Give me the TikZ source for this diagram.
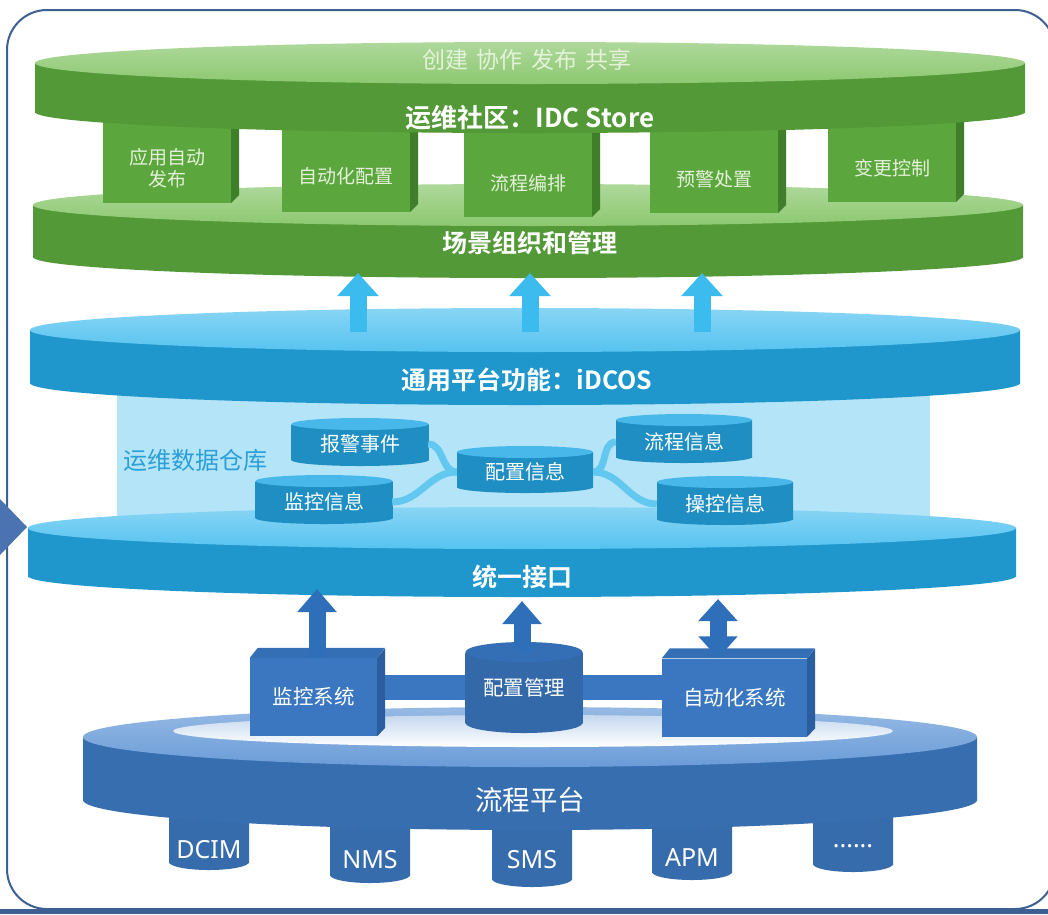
\documentclass[tikz,border=0pt]{standalone}
\usepackage{fontspec}
\setmainfont{Noto Sans CJK SC}[BoldFont={Noto Sans CJK SC Bold}]
\newfontfamily\latinfont{Noto Sans}
\usetikzlibrary{arrows.meta}

\definecolor{frameblue}{HTML}{3D5F91}
\definecolor{tri}{HTML}{4B73B1}
\definecolor{gface}{HTML}{8CC870}
\definecolor{gside}{HTML}{5CAA3E}
\definecolor{gbox}{HTML}{5CA63E}
\definecolor{gboxside}{HTML}{3F7F29}
\definecolor{gtext}{HTML}{E4F2DA}
\definecolor{cface}{HTML}{56C3F0}
\definecolor{cside}{HTML}{22A8E3}
\definecolor{cpanel}{HTML}{B4E4F8}
\definecolor{cdrum}{HTML}{23A1DC}
\definecolor{cdrumtop}{HTML}{48B8EA}
\definecolor{cband}{HTML}{62C8F0}
\definecolor{clabel}{HTML}{2A9FD8}
\definecolor{carrow}{HTML}{3CBBEF}
\definecolor{dface}{HTML}{6A9CD8}
\definecolor{dside}{HTML}{3D7AC3}
\definecolor{dhole}{HTML}{C5D8EF}
\definecolor{dbox}{HTML}{3A77C0}
\definecolor{dboxtop}{HTML}{346FB6}
\definecolor{dboxside}{HTML}{2B5E9F}
\definecolor{darrow}{HTML}{2F6FBA}

% flat disk: cx, cy (top face), rx, ry, thickness, side colour, face colour
\newcommand{\slab}[7]{%
  \shade[left color=#6!90!black, middle color=#6, right color=#6!90!black]
    (#1,#2+#5) ellipse [x radius=#3, y radius=#4];
  \shade[left color=#6!90!black, middle color=#6, right color=#6!90!black]
    (#1-#3,#2) rectangle (#1+#3,#2+#5);
  \shade[top color=#7!70!white, bottom color=#7] (#1,#2) ellipse [x radius=#3, y radius=#4];
}
% small cylinder: cx, ytop, width, body height, ry, body colour, top colour
\newcommand{\drum}[7]{%
  \shade[left color=#6!88!black, middle color=#6, right color=#6!88!black]
    (#1,#2+#4) ellipse [x radius=#3/2, y radius=#5];
  \shade[left color=#6!88!black, middle color=#6, right color=#6!88!black]
    (#1-#3/2,#2) rectangle (#1+#3/2,#2+#4);
  \fill[#7] (#1,#2) ellipse [x radius=#3/2, y radius=#5];
}

\begin{document}
\begin{tikzpicture}[x=1pt,y=-1pt,
  title/.style={text=white,inner sep=0pt,font=\bfseries\fontsize{25}{27}\selectfont},
  lbl/.style={text=white,inner sep=0pt,align=center,font=\fontsize{20}{23}\selectfont},
  info/.style={lbl,minimum width=136pt,minimum height=38pt},
  dnode/.style={lbl,fill=dbox,minimum height=78pt,font=\fontsize{20.5}{23}\selectfont},
  band/.style={draw=cband,line width=7pt},
  larr/.style={draw=carrow,line width=17pt,-{Triangle[width=40pt,length=23pt]}},
  darr/.style={draw=darrow,line width=17pt,-{Triangle[width=38pt,length=23pt]}},
  dbl/.style={draw=darrow,line width=17pt,{Triangle[width=38pt,length=22pt]}-{Triangle[width=38pt,length=22pt]}}]

\useasboundingbox (0,0) rectangle (1048,914);
\fill[white] (0,0) rectangle (1048,914);

% green layer
\slab{528}{205}{495}{21}{52}{gside}{gface}
\node[title] (scene) at (530,243) {场景组织和管理};
\foreach \cx/\yb/\ty/\txt [count=\i] in {167/203/168/{应用自动\\发布}, 346/212/176/自动化配置,
    528/217/183/流程编排, 714/213/179/预警处置, 892/202/168/变更控制} {
  \fill[gboxside] (\cx+64,118) -- (\cx+72,118) -- (\cx+72,\yb-8) -- (\cx+64,\yb) -- cycle;
  \fill[gbox] (\cx-64,118) rectangle (\cx+64,\yb);
  \node[lbl,text=gtext,font=\fontsize{19}{22}\selectfont] (job\i) at (\cx,\ty) {\txt};
}
\slab{530}{63}{495}{21}{49}{gside}{gface}
\node[lbl,text=gtext,font=\fontsize{23}{25}\selectfont] (share) at (527,60) {创建\hspace{3pt} 协作\hspace{3pt} 发布\hspace{3pt} 共享};
\node[title,font=\bfseries\fontsize{26}{28}\selectfont] (store) at (530,118) {运维社区：IDC Store};

% cyan layer
\fill[cpanel] (117,385) rectangle (930,545);
\slab{525}{330}{495}{22}{53}{cside}{cface}
\node[title] (idcos) at (527,380) {通用平台功能：iDCOS};
\node[text=clabel,anchor=west,inner sep=0pt,font=\fontsize{24}{26}\selectfont] (dw) at (123,460) {运维数据仓库};
\slab{522}{528}{494}{21}{48}{cside}{cface}
\node[title] (iface) at (522,577) {统一接口};

\drum{360}{424}{137}{36}{6}{cdrum}{cdrumtop}
\drum{525}{452}{136}{35}{6}{cdrum}{cdrumtop}
\drum{684}{420}{136}{37}{6}{cdrum}{cdrumtop}
\drum{324}{481}{137}{37}{6}{cdrum}{cdrumtop}
\drum{725}{482}{136}{37}{6}{cdrum}{cdrumtop}
\node[info] (alarm) at (360,444) {报警事件};
\node[info] (cfg) at (525,472) {配置信息};
\node[info] (flow) at (684,442) {流程信息};
\node[info] (mon) at (324,502) {监控信息};
\node[info] (ops) at (725,504) {操控信息};
\draw[band] (alarm.east) to[out=0,in=180] (cfg.west);
\draw[band] (mon.east) to[out=0,in=180] (cfg.west);
\draw[band] (flow.west) to[out=180,in=0] (cfg.east);
\draw[band] (ops.west) to[out=180,in=0] (cfg.east);

\foreach \ax [count=\i] in {358,530,702} {
  \coordinate (lo\i) at (\ax,332);
  \coordinate (hi\i) at (\ax,273);
  \draw[larr] (lo\i) -- (hi\i);
}

% blue layer
\foreach \cx/\yb/\ty/\txt [count=\i] in {209/870/850/DCIM, 370/883/860/NMS, 532/887/860/SMS,
    692/880/858/APM, 853/872/846/{......}} {
  \drum{\cx}{800}{80}{\yb-808}{8}{dside}{dside}
  \node[lbl,font=\latinfont\fontsize{25}{27}\selectfont] (sys\i) at (\cx,\ty) {\txt};
}
\slab{530}{737}{447}{30}{63}{dside}{dface}
\shade[top color=dhole, bottom color=white] (533,731) ellipse [x radius=360, y radius=16];
\node[lbl,font=\fontsize{27.5}{30}\selectfont] (proc) at (530,800) {流程平台};

\fill[dbox] (385,675) rectangle (662,700);
\node[dnode,minimum width=127pt] (monsys) at (313.5,697) {监控系统};
\fill[dboxtop] (monsys.north west) -- ++(8,-10) -- ++(127,0) -- (monsys.north east) -- cycle;
\fill[dboxside] (monsys.north east) -- ++(8,-10) -- ++(0,80) -- (monsys.south east) -- cycle;
\node[dnode,minimum width=145pt] (autosys) at (734.5,697.5) {自动化系统};
\fill[dboxtop] (autosys.north west) -- ++(8,-10) -- ++(145,0) -- (autosys.north east) -- cycle;
\fill[dboxside] (autosys.north east) -- ++(8,-10) -- ++(0,80) -- (autosys.south east) -- cycle;
\drum{524}{652}{117}{71}{10}{dbox}{dboxtop}
\node[lbl,minimum width=117pt,minimum height=71pt,font=\fontsize{20.5}{23}\selectfont] (cfgmgmt) at (524,687.5) {配置管理};

\coordinate (t1) at (317,589);
\coordinate (t2) at (522,601);
\coordinate (t3) at (718,599);
\draw[darr] (monsys.north -| t1) -- (t1);
\draw[darr] (cfgmgmt.north -| t2) -- (t2);
\draw[dbl] (autosys.north -| t3) -- (t3);

% frame
\draw[frameblue,line width=2pt,rounded corners=40pt] (7,10) rectangle (1055,909);
\fill[frameblue] (0,909) rectangle (1048,914);
\fill[tri] (0,499) -- (27,527) -- (0,555) -- cycle;
\end{tikzpicture}
\end{document}
